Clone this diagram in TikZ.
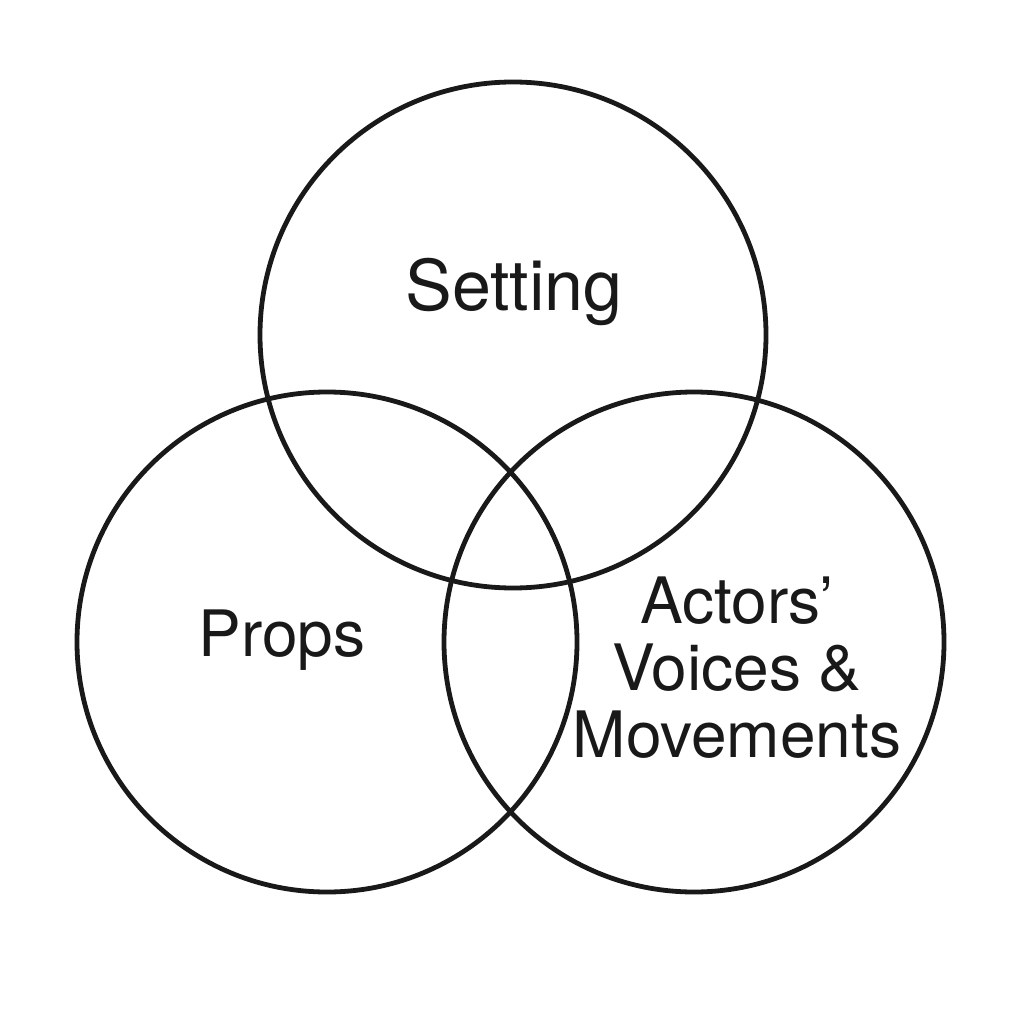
\documentclass[tikz,border=0pt]{standalone}
\usepackage{fontspec}
\setmainfont{TeX Gyre Heros}
\begin{document}
\begin{tikzpicture}[x=1pt,y=-1pt,
  ring/.style={draw=black!90,line width=4.8pt},
  lbl/.style={font=\fontsize{64}{67}\selectfont,align=center,text=black!90}]
\useasboundingbox[fill=white] (0,0) rectangle (1024,1024);
\node[ring,circle,minimum size=506pt,inner sep=0pt] (top) at (513,335) {};
\node[ring,circle,minimum size=500pt,inner sep=0pt] (left) at (327,642) {};
\node[ring,circle,minimum size=500pt,inner sep=0pt] (right) at (694,642) {};
\node[lbl,font=\fontsize{70}{72}\selectfont] (tset) at (514,292) {Setting};
\node[lbl] (tprops) at (282,640) {Props};
\node[lbl] (tact) at (737,668) {Actors’\\Voices \&\\Movements};
\end{tikzpicture}
\end{document}
